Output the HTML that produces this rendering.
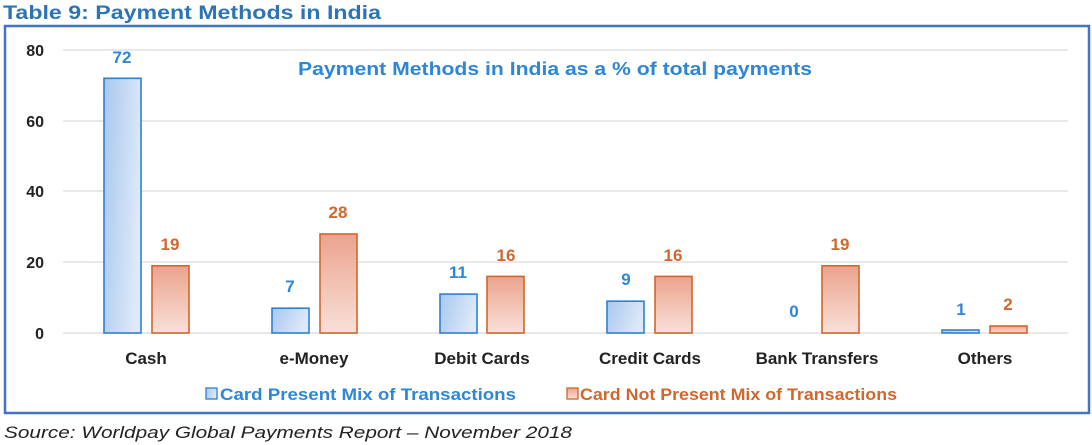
<!DOCTYPE html>
<html><head><meta charset="utf-8"><style>
html,body{margin:0;padding:0;background:#fff;}
svg{display:block;}
text{font-family:"Liberation Sans",sans-serif;}
</style></head><body>
<svg width="1092" height="445" viewBox="0 0 1092 445">
<defs>
<linearGradient id="gb" x1="0" y1="0" x2="1" y2="0.3"><stop offset="0" stop-color="#a8c7ef"/><stop offset="1" stop-color="#dce9f8"/></linearGradient>
<linearGradient id="go" x1="0" y1="0" x2="0" y2="1"><stop offset="0" stop-color="#eba38d"/><stop offset="1" stop-color="#f9e0d8"/></linearGradient>
</defs>
<text x="3" y="19" font-size="19" font-weight="bold" fill="#2e74b5" textLength="378" lengthAdjust="spacingAndGlyphs">Table 9: Payment Methods in India</text>
<rect x="5" y="26" width="1084" height="387" fill="none" stroke="#4472c4" stroke-width="2.5"/>
<g stroke="#d9d9d9" stroke-width="1.3">
<line x1="63" y1="50" x2="1068" y2="50"/><line x1="63" y1="121" x2="1068" y2="121"/><line x1="63" y1="191" x2="1068" y2="191"/><line x1="63" y1="262" x2="1068" y2="262"/><line x1="63" y1="333" x2="1068" y2="333"/>
</g>
<g font-size="16" font-weight="bold" fill="#222" text-anchor="end">
<text x="44" y="56">80</text><text x="44" y="127">60</text><text x="44" y="197">40</text><text x="44" y="268">20</text><text x="44" y="339">0</text>
</g>
<text x="298" y="75" font-size="18" font-weight="bold" fill="#2e86d6" textLength="514" lengthAdjust="spacingAndGlyphs">Payment Methods in India as a % of total payments</text>
<g stroke-width="1.6">
<rect x="104" y="78.3" width="37" height="254.7" fill="url(#gb)" stroke="#2f80d0"/>
<rect x="152" y="265.8" width="37" height="67.2" fill="url(#go)" stroke="#d0672e"/>
<rect x="272" y="308.2" width="37" height="24.8" fill="url(#gb)" stroke="#2f80d0"/>
<rect x="320" y="234" width="37" height="99" fill="url(#go)" stroke="#d0672e"/>
<rect x="440" y="294.1" width="37" height="38.9" fill="url(#gb)" stroke="#2f80d0"/>
<rect x="487" y="276.4" width="37" height="56.6" fill="url(#go)" stroke="#d0672e"/>
<rect x="607" y="301.2" width="37" height="31.8" fill="url(#gb)" stroke="#2f80d0"/>
<rect x="655" y="276.4" width="37" height="56.6" fill="url(#go)" stroke="#d0672e"/>
<rect x="822" y="265.8" width="37" height="67.2" fill="url(#go)" stroke="#d0672e"/>
<rect x="942" y="330" width="37" height="3" fill="url(#gb)" stroke="#2f80d0"/>
<rect x="990" y="326" width="37" height="7" fill="url(#go)" stroke="#d0672e"/>
</g>
<g font-size="17" font-weight="bold" text-anchor="middle">
<g fill="#2e86d6">
<text x="122" y="63">72</text><text x="290" y="292">7</text><text x="458" y="278">11</text><text x="626" y="285">9</text><text x="794" y="317">0</text><text x="961" y="315">1</text>
</g>
<g fill="#d0672e">
<text x="170" y="250">19</text><text x="338" y="218">28</text><text x="506" y="261">16</text><text x="673" y="261">16</text><text x="840" y="250">19</text><text x="1008" y="310">2</text>
</g>
</g>
<g font-size="17" font-weight="bold" fill="#222" text-anchor="middle">
<text x="146" y="364">Cash</text><text x="314" y="364">e-Money</text><text x="482" y="364">Debit Cards</text><text x="650" y="364">Credit Cards</text><text x="817" y="364">Bank Transfers</text><text x="985" y="364">Others</text>
</g>
<rect x="206" y="388" width="11" height="11" fill="url(#gb)" stroke="#2f80d0" stroke-width="1.3"/>
<text x="220" y="400" font-size="17" font-weight="bold" fill="#2e86d6" textLength="296" lengthAdjust="spacingAndGlyphs">Card Present Mix of Transactions</text>
<rect x="567" y="388" width="11" height="11" fill="url(#go)" stroke="#d0672e" stroke-width="1.3"/>
<text x="580" y="400" font-size="17" font-weight="bold" fill="#d0672e" textLength="317" lengthAdjust="spacingAndGlyphs">Card Not Present Mix of Transactions</text>
<text x="4" y="438" font-size="17" font-style="italic" fill="#222" textLength="568" lengthAdjust="spacingAndGlyphs">Source: Worldpay Global Payments Report – November 2018</text>
</svg>
</body></html>
